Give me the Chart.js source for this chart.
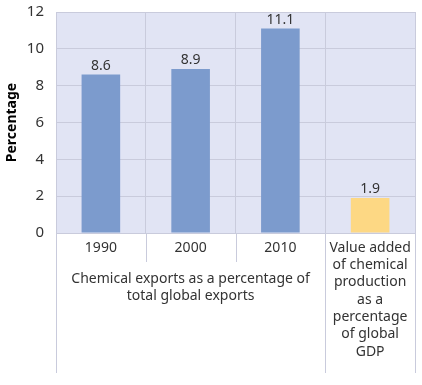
<!DOCTYPE html>
<html lang="en">
<head>
  <meta charset="UTF-8">
  <title>Chemical exports</title>
  <script src="https://cdn.jsdelivr.net/npm/chart.js"></script>
  <style>
    * { box-sizing: border-box; }
    body { margin: 0; padding: 0; background: #fff; }
    .wrap { width: 422px; height: 385px; position: relative; }
  </style>
</head>
<body>
  <div class="wrap">
    <canvas id="grafica" width="422" height="385"></canvas>
  </div>
  <script>
// data
const categories = ['1990', '2000', '2010',
  ['Value added', 'of chemical', 'production', 'as a', 'percentage', 'of global', 'GDP']];
const values = [8.6, 8.9, 11.1, 1.9];
const barColors = ['#7c9bcd', '#7c9bcd', '#7c9bcd', '#fdd884'];
const groupLabel = ['Chemical exports as a percentage of', 'total global exports'];
const groupSpan = 3; // first three categories share the label
const yTicks = [0, 2, 4, 6, 8, 10, 12];

const FONT = "'Noto Sans', sans-serif";
const TXT = '#333';
const GRID = '#c9cbdc';

// background of the plot + extra lines and text below the axis
const decor = {
  id: 'decor',
  beforeDraw(chart) {
    const { ctx, chartArea: a } = chart;
    ctx.save();
    ctx.fillStyle = '#e1e4f4';
    ctx.fillRect(a.left, a.top, a.right - a.left, a.bottom - a.top);
    ctx.restore();
  },
  afterDraw(chart) {
    const { ctx, chartArea: a } = chart;
    const xs = chart.scales.x;
    const n = categories.length;
    const step = xs.getPixelForTick(1) - xs.getPixelForTick(0);
    ctx.save();
    ctx.strokeStyle = GRID;
    ctx.lineWidth = 1;
    for (let i = 0; i <= n; i++) {
      const px = Math.round(xs.getPixelForTick(0) - step / 2 + i * step) + 0.5;
      const long = (i === 0 || i === groupSpan || i === n);
      ctx.beginPath();
      ctx.moveTo(px, a.bottom);
      ctx.lineTo(px, long ? a.bottom + 140 : a.bottom + 29);
      ctx.stroke();
    }
    // group label
    const cx = (xs.getPixelForTick(0) + xs.getPixelForTick(groupSpan - 1)) / 2;
    ctx.fillStyle = TXT;
    ctx.font = '14px ' + FONT;
    ctx.textAlign = 'center';
    ctx.textBaseline = 'middle';
    groupLabel.forEach((t, k) => ctx.fillText(t, cx, a.bottom + 46 + k * 17.5));
    // value labels
    const meta = chart.getDatasetMeta(0);
    meta.data.forEach((bar, k) => {
      ctx.fillText(values[k].toFixed(1), bar.x, bar.y - 9);
    });
    ctx.restore();
  }
};

new Chart(document.getElementById('grafica'), {
  type: 'bar',
  data: {
    labels: categories,
    datasets: [{
      data: values,
      backgroundColor: barColors,
      borderWidth: 0,
      categoryPercentage: 1,
      barPercentage: 0.43
    }]
  },
  options: {
    responsive: false,
    animation: false,
    devicePixelRatio: 1,
    layout: { padding: { top: 12, right: 7, left: 0, bottom: 0 } },
    plugins: { legend: { display: false }, tooltip: { enabled: false } },
    scales: {
      x: {
        grid: { color: GRID, tickLength: 0, offset: true },
        border: { display: true, color: GRID },
        ticks: {
          color: TXT,
          font: { family: FONT, size: 14, lineHeight: 1.24 },
          padding: 6,
          maxRotation: 0,
          autoSkip: false
        },
        afterFit(s) { s.height = 152; s.paddingLeft = 0; s.paddingRight = 0; }
      },
      y: {
        min: 0,
        max: 12,
        afterBuildTicks(s) { s.ticks = yTicks.map(v => ({ value: v })); },
        grid: { color: GRID, tickLength: 0 },
        border: { display: true, color: GRID },
        ticks: {
          color: TXT,
          font: { family: FONT, size: 15 },
          padding: 12
        },
        title: {
          display: true,
          text: 'Percentage',
          color: '#000',
          font: { family: FONT, size: 14, weight: 'bold' },
          padding: { top: 4, bottom: 2 }
        },
        afterFit(s) { s.width = 56; s.paddingTop = 0; s.paddingBottom = 0; }
      }
    }
  },
  plugins: [decor]
});
  </script>
</body>
</html>
